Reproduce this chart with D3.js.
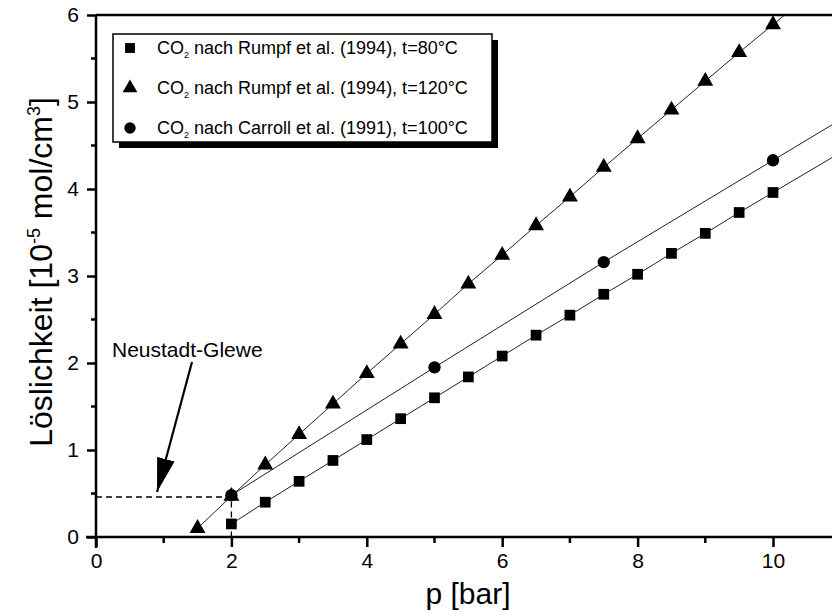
<!DOCTYPE html>
<html>
<head>
<meta charset="utf-8">
<script src="https://cdnjs.cloudflare.com/ajax/libs/d3/7.8.5/d3.min.js"></script>
<style>
  body { margin: 0; background: #fff; }
  text { font-family: Arial, "Liberation Sans", sans-serif; fill: #000; }
</style>
</head>
<body>
<svg id="SVG" width="832" height="611"></svg>
<script>
// data
var p80 = [2, 2.5, 3, 3.5, 4, 4.5, 5, 5.5, 6, 6.5, 7, 7.5, 8, 8.5, 9, 9.5, 10];
var sol80 = [0.15, 0.40, 0.64, 0.88, 1.12, 1.36, 1.60, 1.84, 2.08, 2.32, 2.55, 2.79, 3.02, 3.26, 3.49, 3.73, 3.96];
var p120 = [1.5, 2, 2.5, 3, 3.5, 4, 4.5, 5, 5.5, 6, 6.5, 7, 7.5, 8, 8.5, 9, 9.5, 10];
var sol120 = [0.10, 0.47, 0.83, 1.18, 1.53, 1.88, 2.22, 2.56, 2.91, 3.24, 3.58, 3.91, 4.25, 4.58, 4.91, 5.24, 5.57, 5.89];
var p100 = [2, 5, 7.5, 10];
var sol100 = [0.48, 1.95, 3.16, 4.33];
var xTicks = [0, 2, 4, 6, 8, 10];
var xMinor = [1, 3, 5, 7, 9];
var yTicks = [0, 1, 2, 3, 4, 5, 6];
var yMinor = [0.5, 1.5, 2.5, 3.5, 4.5, 5.5];
var legendLabels = [
  ["CO", "2", " nach Rumpf et al. (1994), t=80°C"],
  ["CO", "2", " nach Rumpf et al. (1994), t=120°C"],
  ["CO", "2", " nach Carroll et al. (1991), t=100°C"]
];
var siteP = 2, siteSol = 0.46;

var svg = d3.select("#SVG");
var mLeft = 96, mRight = 832, mTop = 15, mBottom = 537;

var x = d3.scaleLinear().domain([0, 10]).range([mLeft, 773]);
var y = d3.scaleLinear().domain([0, 6]).range([mBottom, mTop]);

svg.append("clipPath").attr("id", "clip")
   .append("rect").attr("x", mLeft).attr("y", mTop)
   .attr("width", mRight - mLeft).attr("height", mBottom - mTop);

var series = [
  { p: p80, v: sol80, shape: d3.symbolSquare, size: 115 },
  { p: p120, v: sol120, shape: d3.symbolTriangle, size: 110 },
  { p: p100, v: sol100, shape: d3.symbolCircle, size: 120 }
];

var line = d3.line().x(function(d) { return x(d[0]) }).y(function(d) { return y(d[1]) });
var xEnd = x.invert(mRight + 10);

series.forEach(function(s) {
  var pts = s.p.map(function(p, i) { return [p, s.v[i]] });
  var n = pts.length;
  var slope = (pts[n-1][1] - pts[n-2][1]) / (pts[n-1][0] - pts[n-2][0]);
  pts.push([xEnd, pts[n-1][1] + slope * (xEnd - pts[n-1][0])]);
  svg.append("path").datum(pts)
     .attr("clip-path", "url(#clip)")
     .attr("d", line)
     .attr("fill", "none").attr("stroke", "#222").attr("stroke-width", 1);
});

// dashed guide to the Neustadt-Glewe point
svg.append("path")
   .attr("d", "M" + x(0) + "," + y(siteSol) + "H" + x(siteP) + "V" + y(0))
   .attr("fill", "none").attr("stroke", "#000").attr("stroke-width", 1.3)
   .attr("stroke-dasharray", "6,4");

series.forEach(function(s) {
  svg.append("g").selectAll("path")
     .data(s.p.map(function(p, i) { return [p, s.v[i]] }))
     .enter().append("path")
     .attr("transform", function(d) { return "translate(" + x(d[0]) + "," + y(d[1]) + ")" })
     .attr("d", d3.symbol().type(s.shape).size(s.size))
     .attr("fill", "#000");
});

// axes
var xAxis = svg.append("g").attr("transform", "translate(0," + mBottom + ")");
xAxis.call(d3.axisBottom(x).tickValues(xTicks).tickSize(10).tickPadding(6).tickFormat(d3.format("d")));
xMinor.forEach(function(v) {
  xAxis.append("line").attr("x1", x(v)).attr("x2", x(v)).attr("y1", 0).attr("y2", 6)
       .attr("stroke", "#000").attr("stroke-width", 2.5);
});
xAxis.select(".domain").remove();
xAxis.append("line").attr("x1", mLeft - 10).attr("x2", mRight).attr("stroke", "#000").attr("stroke-width", 2.5);

var yAxis = svg.append("g").attr("transform", "translate(" + mLeft + ",0)");
yAxis.call(d3.axisLeft(y).tickValues(yTicks).tickSize(9).tickPadding(8).tickFormat(d3.format("d")));
yMinor.forEach(function(v) {
  yAxis.append("line").attr("x1", 0).attr("x2", -5).attr("y1", y(v)).attr("y2", y(v))
       .attr("stroke", "#000").attr("stroke-width", 2.5);
});
yAxis.select(".domain").remove();
yAxis.append("line").attr("y1", mTop).attr("y2", mBottom + 11).attr("stroke", "#000").attr("stroke-width", 2.5);

svg.selectAll(".tick line").attr("stroke-width", 2.5);
svg.selectAll(".tick text").style("font-size", "21px");

svg.append("line").attr("x1", mLeft).attr("x2", mRight).attr("y1", mTop).attr("y2", mTop)
   .attr("stroke", "#000").attr("stroke-width", 2.5);

// axis titles
svg.append("text").attr("x", 468).attr("y", 604).attr("text-anchor", "middle")
   .style("font-size", "30px").text("p [bar]");

var yt = svg.append("text").attr("transform", "translate(52,272) rotate(-90)")
   .attr("text-anchor", "middle").style("font-size", "32px");
yt.append("tspan").text("Löslichkeit [10");
yt.append("tspan").attr("dy", -12).style("font-size", "18px").text("-5");
yt.append("tspan").attr("dy", 12).text(" mol/cm");
yt.append("tspan").attr("dy", -12).style("font-size", "18px").text("3");
yt.append("tspan").attr("dy", 12).text("]");

// annotation
svg.append("text").attr("x", 112).attr("y", 357).style("font-size", "21px").text("Neustadt-Glewe");
svg.append("defs").append("marker").attr("id", "arrow")
   .attr("viewBox", "0 0 34 18").attr("refX", 34).attr("refY", 9)
   .attr("markerWidth", 34).attr("markerHeight", 18).attr("markerUnits", "userSpaceOnUse")
   .attr("orient", "auto")
   .append("path").attr("d", "M0,0L34,9L0,18Z").attr("fill", "#000");
svg.append("line").attr("x1", 192).attr("y1", 362).attr("x2", 157).attr("y2", 492)
   .attr("stroke", "#000").attr("stroke-width", 2.2).attr("marker-end", "url(#arrow)");

// legend
var lg = svg.append("g").attr("transform", "translate(113,34)");
lg.append("rect").attr("x", 6).attr("y", 6).attr("width", 379).attr("height", 108).attr("fill", "#000");
lg.append("rect").attr("x", 0).attr("y", 0).attr("width", 379).attr("height", 108)
  .attr("fill", "#fff").attr("stroke", "#000").attr("stroke-width", 1.5);
legendLabels.forEach(function(lab, i) {
  var cy = 14 + i * 40;
  lg.append("path").attr("transform", "translate(17," + cy + ")")
    .attr("d", d3.symbol().type(series[i].shape).size(series[i].size * 0.85)).attr("fill", "#000");
  var t = lg.append("text").attr("x", 44).attr("y", cy + 6).style("font-size", "18px");
  t.append("tspan").text(lab[0]);
  t.append("tspan").attr("dy", 4).style("font-size", "9px").text(lab[1]);
  t.append("tspan").attr("dy", -4).text(lab[2]);
});
</script>
</body>
</html>
